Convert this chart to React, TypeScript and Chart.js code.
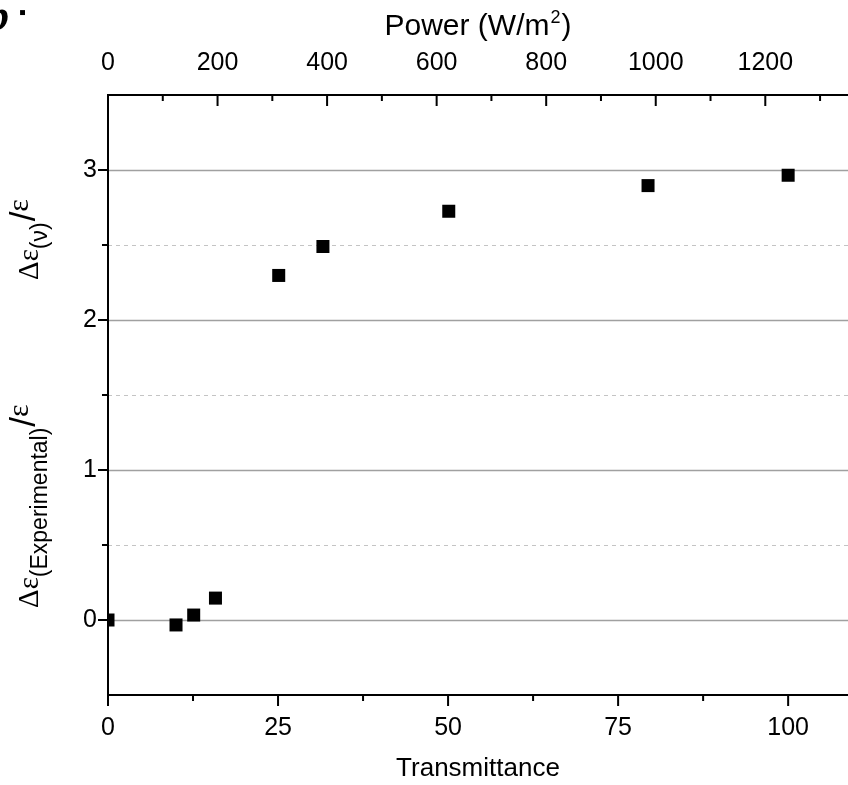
import React, { useEffect, useRef } from 'react';
import { Chart, registerables } from 'chart.js';

Chart.register(...registerables);

// ---- data ----
const transmittance = [0, 10, 12.6, 15.8, 25.1, 31.6, 50.1, 79.4, 100];
const deltaEps = [0, -0.033, 0.033, 0.146, 2.297, 2.49, 2.725, 2.896, 2.965];

const bottomTicks = [0, 25, 50, 75, 100];
const bottomMinor = [12.5, 37.5, 62.5, 87.5];
const topTicks = [0, 200, 400, 600, 800, 1000, 1200];
const topMinor = [100, 300, 500, 700, 900, 1100, 1300];
const yTicks = [0, 1, 2, 3];
const yMinor = [0.5, 1.5, 2.5];

const xTitle = 'Transmittance';
const x2TitleMain = 'Power (W/m';
const x2TitleSup = '2';
const x2TitleEnd = ')';

const SANS = '"Liberation Sans", Arial, sans-serif';
const SERIF = '"Liberation Serif", "Times New Roman", serif';

type Piece = { text: string; font: string; dy: number; gap?: number };

const upperLabel: Piece[] = [
  { text: 'Δε', font: `29px ${SERIF}`, dy: 0 },
  { text: '(ν)', font: `23px ${SANS}`, dy: 9 },
  { text: '/', font: `35px ${SANS}`, dy: -3, gap: 1 },
  { text: 'ε', font: `30px ${SERIF}`, dy: -10 },
];
const lowerLabel: Piece[] = [
  { text: 'Δε', font: `29px ${SERIF}`, dy: 0 },
  { text: '(Experimental)', font: `23px ${SANS}`, dy: 9 },
  { text: '/', font: `35px ${SANS}`, dy: -3, gap: 1 },
  { text: 'ε', font: `30px ${SERIF}`, dy: -10 },
];

function drawRotated(ctx: CanvasRenderingContext2D, pieces: Piece[], baseX: number, startY: number) {
  ctx.save();
  ctx.translate(baseX, startY);
  ctx.rotate(-Math.PI / 2);
  ctx.fillStyle = '#000';
  ctx.textBaseline = 'alphabetic';
  ctx.textAlign = 'left';
  let cx = 0;
  for (const p of pieces) {
    ctx.font = p.font;
    cx += p.gap || 0;
    ctx.fillText(p.text, cx, p.dy);
    cx += ctx.measureText(p.text).width;
  }
  ctx.restore();
}

const originPlugin = {
  id: 'originAxes',
  beforeDatasetsDraw(chart: any) {
    const { ctx, chartArea } = chart;
    const { left, right, top, bottom } = chartArea;
    const xs = chart.scales.x;
    const x2s = chart.scales.x2;
    const ys = chart.scales.y;
    ctx.save();
    // grid lines
    ctx.strokeStyle = '#a0a0a0';
    ctx.lineWidth = 1.5;
    for (const v of yTicks) {
      const py = Math.round(ys.getPixelForValue(v)) + 0.5;
      ctx.beginPath();
      ctx.moveTo(left, py);
      ctx.lineTo(right, py);
      ctx.stroke();
    }
    ctx.strokeStyle = '#c4c4c4';
    ctx.lineWidth = 1;
    ctx.setLineDash([4, 4]);
    for (const v of yMinor) {
      const py = Math.round(ys.getPixelForValue(v)) + 0.5;
      ctx.beginPath();
      ctx.moveTo(left, py);
      ctx.lineTo(right, py);
      ctx.stroke();
    }
    ctx.setLineDash([]);

    // axes
    ctx.strokeStyle = '#000';
    ctx.lineWidth = 2;
    ctx.beginPath();
    ctx.moveTo(left, top - 1);
    ctx.lineTo(left, bottom + 1);
    ctx.moveTo(left - 1, bottom);
    ctx.lineTo(right, bottom);
    ctx.moveTo(left - 1, top);
    ctx.lineTo(right, top);
    ctx.stroke();

    // ticks
    ctx.beginPath();
    for (const v of yTicks) {
      const py = ys.getPixelForValue(v);
      ctx.moveTo(left - 10, py);
      ctx.lineTo(left, py);
    }
    for (const v of yMinor) {
      const py = ys.getPixelForValue(v);
      ctx.moveTo(left - 6, py);
      ctx.lineTo(left, py);
    }
    for (const v of bottomTicks) {
      const px = xs.getPixelForValue(v);
      ctx.moveTo(px, bottom);
      ctx.lineTo(px, bottom + 11);
    }
    for (const v of bottomMinor) {
      const px = xs.getPixelForValue(v);
      ctx.moveTo(px, bottom);
      ctx.lineTo(px, bottom + 6);
    }
    for (const v of topTicks) {
      const px = x2s.getPixelForValue(v);
      ctx.moveTo(px, top);
      ctx.lineTo(px, top + 11);
    }
    for (const v of topMinor) {
      const px = x2s.getPixelForValue(v);
      ctx.moveTo(px, top);
      ctx.lineTo(px, top + 6);
    }
    ctx.stroke();
    ctx.restore();
  },
  afterDraw(chart: any) {
    const { ctx, chartArea } = chart;
    drawRotated(ctx, upperLabel, 38, 280);
    drawRotated(ctx, lowerLabel, 38, 608);

    // top axis title with superscript
    ctx.save();
    ctx.fillStyle = '#000';
    ctx.textBaseline = 'alphabetic';
    ctx.textAlign = 'left';
    const mainFont = `30px ${SANS}`;
    const supFont = `18px ${SANS}`;
    ctx.font = mainFont;
    const w1 = ctx.measureText(x2TitleMain).width;
    const w3 = ctx.measureText(x2TitleEnd).width;
    ctx.font = supFont;
    const w2 = ctx.measureText(x2TitleSup).width + 2;
    const total = w1 + w2 + w3;
    const cx = (chartArea.left + chartArea.right) / 2;
    const x0 = cx - total / 2;
    const base = 35;
    ctx.font = mainFont;
    ctx.fillText(x2TitleMain, x0, base);
    ctx.font = supFont;
    ctx.fillText(x2TitleSup, x0 + w1 + 1, base - 12);
    ctx.font = mainFont;
    ctx.fillText(x2TitleEnd, x0 + w1 + w2, base);

    // cropped panel letter in the corner
    ctx.font = `italic bold 44px ${SERIF}`;
    ctx.fillText('b', -13, 30);
    ctx.font = `bold 20px ${SANS}`;
    ctx.fillText('▪', 19, 19);
    ctx.restore();
  },
};

export default function App() {
  const ref = useRef<HTMLCanvasElement | null>(null);
  useEffect(() => {
    if (!ref.current) return;
    const points = transmittance.map((t, i) => ({ x: t, y: deltaEps[i] }));
    const zeroPad = (s: any) => {
      s.paddingLeft = 0;
      s.paddingRight = 0;
    };
    const chart = new Chart(ref.current, {
      type: 'scatter',
      data: {
        datasets: [
          {
            data: points,
            pointStyle: 'rect',
            pointRadius: 9.2,
            pointBackgroundColor: '#000',
            pointBorderColor: '#000',
            pointBorderWidth: 0,
            clip: 0,
          } as any,
        ],
      },
      options: {
        animation: false,
        responsive: false,
        layout: { padding: 0, autoPadding: false },
        plugins: { legend: { display: false }, tooltip: { enabled: false } },
        scales: {
          x: {
            type: 'linear',
            position: 'bottom',
            min: 0,
            max: 108.8,
            afterBuildTicks: (s: any) => {
              s.ticks = bottomTicks.map((v) => ({ value: v }));
            },
            afterFit: (s: any) => {
              s.height = 90;
              zeroPad(s);
            },
            grid: { display: false, drawTicks: false },
            border: { display: false },
            ticks: {
              color: '#000',
              font: { family: SANS, size: 25 },
              padding: 18,
              maxRotation: 0,
              autoSkip: false,
              callback: (v: any) => String(v),
            },
            title: {
              display: true,
              text: xTitle,
              color: '#000',
              font: { family: SANS, size: 26 },
              padding: { top: 0, bottom: 1 },
            },
          },
          x2: {
            type: 'linear',
            position: 'top',
            min: 0,
            max: 1351,
            afterBuildTicks: (s: any) => {
              s.ticks = topTicks.map((v) => ({ value: v }));
            },
            afterFit: (s: any) => {
              s.height = 95;
              zeroPad(s);
            },
            grid: { display: false, drawTicks: false },
            border: { display: false },
            ticks: {
              color: '#000',
              font: { family: SANS, size: 25 },
              padding: 17,
              maxRotation: 0,
              autoSkip: false,
              callback: (v: any) => String(v),
            },
            title: { display: false },
          },
          y: {
            type: 'linear',
            position: 'left',
            min: -0.5,
            max: 3.5,
            afterBuildTicks: (s: any) => {
              s.ticks = yTicks.map((v) => ({ value: v }));
            },
            afterFit: (s: any) => {
              s.width = 108;
            },
            grid: { display: false, drawTicks: false },
            border: { display: false },
            ticks: {
              color: '#000',
              font: { family: SANS, size: 25 },
              padding: 11,
              autoSkip: false,
              callback: (v: any) => String(v),
            },
          },
        },
      } as any,
      plugins: [originPlugin],
    });
    return () => chart.destroy();
  }, []);
  return (
    <div style={{ position: 'absolute', left: 0, top: 0, width: 848, height: 785, background: '#fff' }}>
      <canvas ref={ref} width={848} height={785} style={{ display: 'block' }} />
    </div>
  );
}
